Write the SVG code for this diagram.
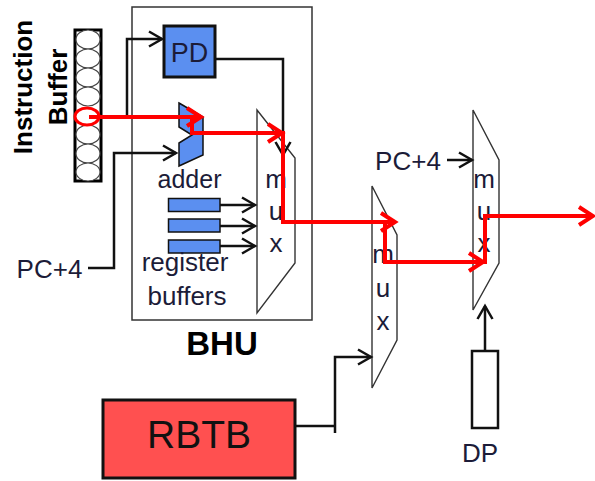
<svg xmlns="http://www.w3.org/2000/svg" width="595" height="481" viewBox="0 0 595 481">
<style>
.t{font-family:"Liberation Sans",Arial,sans-serif;fill:#1c1c38;text-anchor:middle}
.b{font-weight:bold;fill:#000}
.mux{fill:#fff;stroke:#333;stroke-width:1.4}
.blk{fill:none;stroke:#111;stroke-width:2.5}
.red{fill:none;stroke:#ff0000;stroke-width:4;stroke-linejoin:miter}
.cell{fill:#fff;stroke:#444;stroke-width:1.2}
.blue{fill:#5b8ff0;stroke:#111}
</style>
<defs>
<marker id="ab" viewBox="0 0 18 20" refX="15" refY="10" markerWidth="18" markerHeight="20" markerUnits="userSpaceOnUse" orient="auto">
<path d="M2,2.5 L15,10 L2,17.5" fill="none" stroke="#111" stroke-width="2.5"/>
</marker>
<marker id="ar" viewBox="0 0 22 24" refX="18" refY="12" markerWidth="22" markerHeight="24" markerUnits="userSpaceOnUse" orient="auto">
<path d="M4,3 L18,12 L4,21" fill="none" stroke="#ff0000" stroke-width="4"/>
</marker>
</defs>
<rect width="595" height="481" fill="#fff"/>

<g id="label-ib">
<text class="t b" transform="translate(32,87) rotate(-90)" font-size="26">Instruction</text>
<text class="t b" transform="translate(67,87) rotate(-90)" font-size="26">Buffer</text>
</g>

<g id="instruction-buffer">
<rect x="75" y="30" width="26" height="151" fill="#fff" stroke="#000" stroke-width="3"/>
<ellipse class="cell" cx="88" cy="39.5" rx="12" ry="9.5"/>
<ellipse class="cell" cx="88" cy="58.5" rx="12" ry="9.5"/>
<ellipse class="cell" cx="88" cy="77.5" rx="12" ry="9.5"/>
<ellipse class="cell" cx="88" cy="96.5" rx="12" ry="9.5"/>
<ellipse class="cell" cx="88" cy="134.5" rx="12" ry="9.5"/>
<ellipse class="cell" cx="88" cy="153.5" rx="12" ry="9.5"/>
<ellipse class="cell" cx="88" cy="172" rx="12" ry="9"/>
<ellipse cx="87" cy="116.5" rx="12" ry="8.5" fill="#fff" stroke="#ff0000" stroke-width="3"/>
</g>

<g id="bhu">
<rect x="132" y="7" width="180" height="313" fill="none" stroke="#333" stroke-width="1.5"/>
<text class="t b" x="222" y="355" font-size="33">BHU</text>
</g>

<g id="pd">
<rect class="blue" x="164" y="26" width="51" height="51" stroke-width="3"/>
<text class="t" x="189.5" y="62" font-size="27">PD</text>
</g>

<g id="adder">
<polygon class="blue" points="179,103 203,117 203,155 179,166 179,143 192,135 179,127" stroke-width="1.5"/>
<text class="t" x="189.5" y="188" font-size="25">adder</text>
</g>

<g id="register-buffers">
<rect class="blue" x="168.5" y="198.5" width="51.5" height="13" stroke-width="1.5"/>
<rect class="blue" x="168.5" y="219" width="51.5" height="13" stroke-width="1.5"/>
<rect class="blue" x="168.5" y="240" width="51.5" height="13" stroke-width="1.5"/>
<text class="t" x="185" y="271" font-size="26">register</text>
<text class="t" x="187" y="305" font-size="26">buffers</text>
</g>

<g id="mux1">
<polygon class="mux" points="257,110 295,158 295,263 257,313"/>
<text class="t" x="276" y="188" font-size="26">m</text>
<text class="t" x="276" y="220" font-size="26">u</text>
<text class="t" x="276" y="252" font-size="26">x</text>
</g>

<g id="mux2">
<polygon class="mux" points="372,186 397,235 397,340 372,388"/>
<text class="t" x="383" y="263" font-size="26">m</text>
<text class="t" x="383" y="297" font-size="26">u</text>
<text class="t" x="383" y="330" font-size="26">x</text>
</g>

<g id="mux3">
<polygon class="mux" points="473,110 499,160 499,263 473,310"/>
<text class="t" x="484" y="188" font-size="26">m</text>
<text class="t" x="484" y="220" font-size="26">u</text>
<text class="t" x="484" y="252" font-size="26">x</text>
</g>

<g id="pc4-left">
<text class="t" x="49.5" y="278" font-size="26">PC+4</text>
</g>

<g id="pc4-right">
<text class="t" x="408" y="170" font-size="26">PC+4</text>
</g>

<g id="rbtb">
<rect x="103" y="400" width="192" height="78" fill="#ff5050" stroke="#111" stroke-width="3"/>
<text class="t" x="199" y="448" font-size="39" style="fill:#111">RBTB</text>
</g>

<g id="dp">
<rect x="472" y="351" width="26" height="77" fill="#fff" stroke="#111" stroke-width="2.5"/>
<text class="t" x="480" y="462" font-size="26">DP</text>
</g>

<g id="connectors">
<path class="blk" d="M127,117 V39 H162" marker-end="url(#ab)"/>
<path class="blk" d="M88,268 H114 V153 H176" marker-end="url(#ab)"/>
<path class="blk" d="M215,59 H283 V155" marker-end="url(#ab)"/>
<path class="blk" d="M220,205 H255" marker-end="url(#ab)"/>
<path class="blk" d="M220,226 H255" marker-end="url(#ab)"/>
<path class="blk" d="M220,246 H255" marker-end="url(#ab)"/>
<path class="blk" d="M447,160 H472" marker-end="url(#ab)"/>
<path class="blk" d="M485,351 V306" marker-end="url(#ab)"/>
<path class="blk" d="M295,426 H335 M335,433 V357 H371" marker-end="url(#ab)"/>
<path class="red" d="M89,117 H201" marker-end="url(#ar)"/>
<path class="red" d="M192,117 V133 H282" marker-end="url(#ar)"/>
<path class="red" d="M283,131 V222 H395" marker-end="url(#ar)"/>
<path class="red" d="M385,222 V262 H483" marker-end="url(#ar)"/>
<path class="red" d="M485,264 V216 H593" marker-end="url(#ar)"/>
</g>
</svg>
